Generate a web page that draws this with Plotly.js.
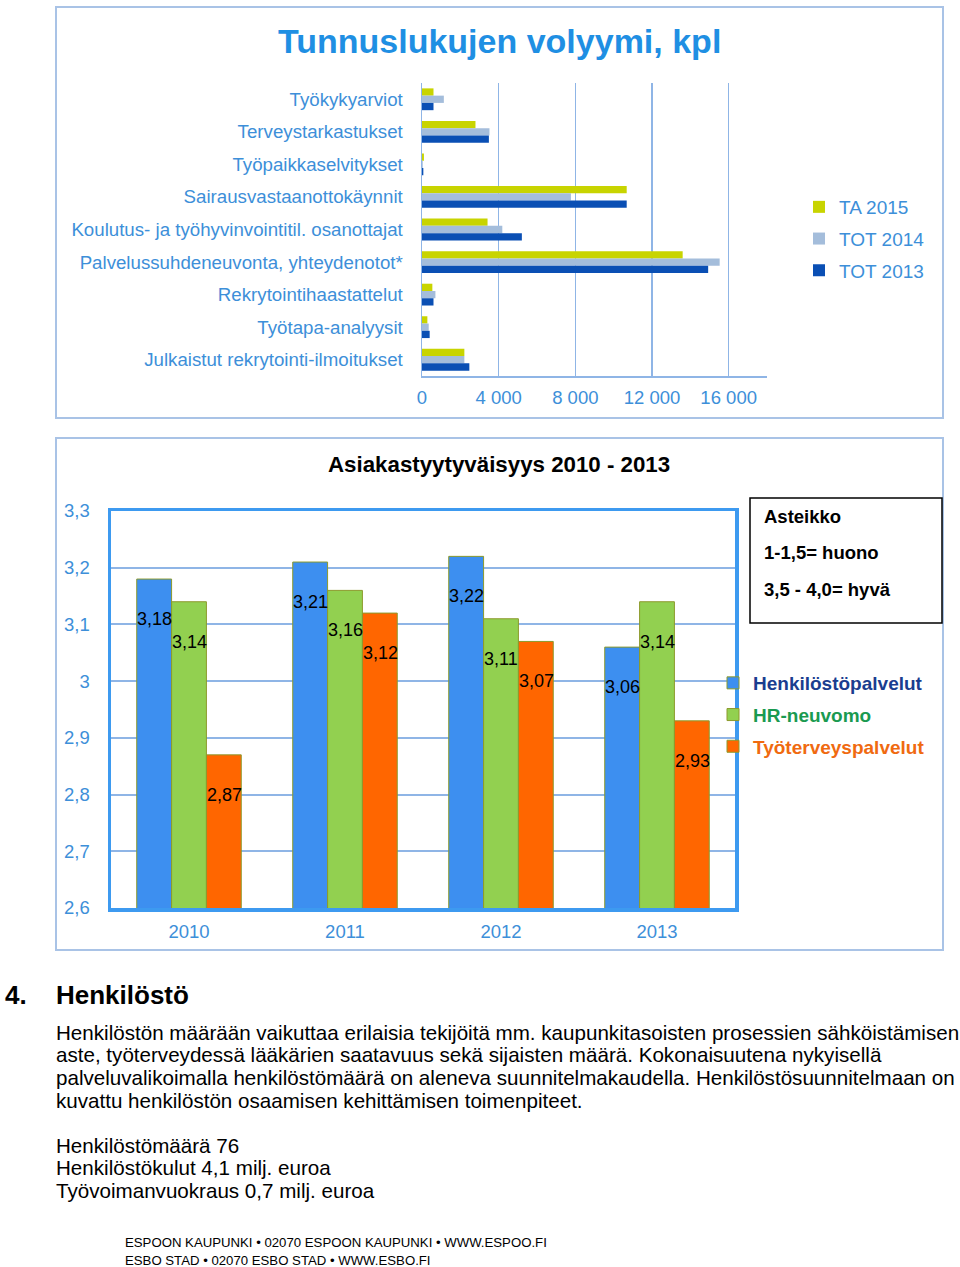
<!DOCTYPE html>
<html>
<head>
<meta charset="utf-8">
<script src="https://cdn.plot.ly/plotly-3.0.1.min.js"></script>
<style>
html,body{margin:0;padding:0;background:#fff;}
#chart{width:960px;height:1267px;}
</style>
</head>
<body>
<div id="chart"></div>
<script>
// ---------- DATA ----------
const volCategories = [
  "Työkykyarviot",
  "Terveystarkastukset",
  "Työpaikkaselvitykset",
  "Sairausvastaanottokäynnit",
  "Koulutus- ja työhyvinvointitil. osanottajat",
  "Palvelussuhdeneuvonta, yhteydenotot*",
  "Rekrytointihaastattelut",
  "Työtapa-analyysit",
  "Julkaistut rekrytointi-ilmoitukset"
];
const volSeriesNames = ["TA 2015", "TOT 2014", "TOT 2013"];
const ta2015  = [600, 2790, 100, 10680, 3420, 13600, 540, 280, 2210];
const tot2014 = [1140, 3520, 40, 7770, 4190, 15530, 700, 350, 2210];
const tot2013 = [600, 3490, 70, 10680, 5210, 14930, 600, 400, 2470];
const volTicks = [0, 4000, 8000, 12000, 16000];

const satYears = ["2010", "2011", "2012", "2013"];
const satSeriesNames = ["Henkilöstöpalvelut", "HR-neuvomo", "Työterveyspalvelut"];
const henkilostopalvelut = [3.18, 3.21, 3.22, 3.06];
const hrNeuvomo = [3.14, 3.16, 3.11, 3.14];
const tyoterveyspalvelut = [2.87, 3.12, 3.07, 2.93];

const titleTop = "Tunnuslukujen volyymi, kpl";
const titleBottom = "Asiakastyytyväisyys 2010 - 2013";
const scaleLines = ["Asteikko", "1-1,5= huono", "3,5 - 4,0= hyvä"];
const sectionNumber = "4.";
const sectionTitle = "Henkilöstö";
const paragraphLines = [
  "Henkilöstön määrään vaikuttaa erilaisia tekijöitä mm. kaupunkitasoisten prosessien sähköistämisen",
  "aste, työterveydessä lääkärien saatavuus sekä sijaisten määrä. Kokonaisuutena nykyisellä",
  "palveluvalikoimalla henkilöstömäärä on aleneva suunnitelmakaudella. Henkilöstösuunnitelmaan on",
  "kuvattu henkilöstön osaamisen kehittämisen toimenpiteet."
];
const factLines = [
  "Henkilöstömäärä 76",
  "Henkilöstökulut 4,1 milj. euroa",
  "Työvoimanvuokraus 0,7 milj. euroa"
];
const footerLines = [
  "ESPOON KAUPUNKI • 02070 ESPOON KAUPUNKI • WWW.ESPOO.FI",
  "ESBO STAD • 02070 ESBO STAD • WWW.ESBO.FI"
];

// ---------- STYLE ----------
const W = 960, H = 1267;
const px = x => x / W;
const py = y => 1 - y / H;
const FONT = "Liberation Sans, Arial, Helvetica, sans-serif";
const lightBlue = "#3d8fd9";
const gridBlue = "#8fb5e6";
const volColors = ["#c8d400", "#a4bddb", "#0a4fb4"];
const satColors = ["#3d8ff0", "#92d050", "#ff6600"];
const satTextColors = ["#1a3d8f", "#1a9a50", "#f06a10"];

// ---------- TRACES ----------
const volData = [ta2015, tot2014, tot2013];
const traces = [];
volData.forEach((vals, i) => {
  traces.push({
    type: "bar", orientation: "h",
    x: vals, y: volCategories, name: volSeriesNames[i],
    xaxis: "x", yaxis: "y",
    marker: {color: volColors[i]},
    legend: "legend", legendgroup: "v" + i,
    hoverinfo: "x+y"
  });
});
const satData = [henkilostopalvelut, hrNeuvomo, tyoterveyspalvelut];
satData.forEach((vals, i) => {
  traces.push({
    type: "bar",
    x: satYears, y: vals,
    name: "<b><span style='color:" + satTextColors[i] + "'>" + satSeriesNames[i] + "</span></b>",
    xaxis: "x2", yaxis: "y2",
    marker: {color: satColors[i], line: {color: "#8c9a2c", width: 1}},
    legend: "legend2", legendgroup: "s" + i,
    hoverinfo: "y"
  });
});

// ---------- ANNOTATIONS ----------
const annotations = [];
annotations.push({
  xref: "paper", yref: "paper", x: px(499), y: py(41),
  text: "<b>" + titleTop + "</b>", showarrow: false,
  font: {family: FONT, size: 34, color: "#1f8fe3"}, xanchor: "center", yanchor: "middle"
});
annotations.push({
  xref: "paper", yref: "paper", x: px(499), y: py(465),
  text: "<b>" + titleBottom + "</b>", showarrow: false,
  font: {family: FONT, size: 22.3, color: "#000"}, xanchor: "center", yanchor: "middle"
});
// data labels for satisfaction bars (x given as category index)
const satShift = [-35, 0, 35];
satData.forEach((vals, i) => {
  vals.forEach((v, j) => {
    annotations.push({
      xref: "x2", yref: "y2", x: j, y: v,
      xshift: satShift[i], yshift: -40,
      text: v.toFixed(2).replace(".", ","), showarrow: false,
      font: {family: FONT, size: 18, color: "#000"},
      xanchor: "center", yanchor: "middle"
    });
  });
});
// scale box text
scaleLines.forEach((t, i) => {
  annotations.push({
    xref: "paper", yref: "paper", x: px(762), y: py(516 + i * 36.5),
    text: "<b>" + t + "</b>", showarrow: false,
    font: {family: FONT, size: 18.5, color: "#000"}, xanchor: "left", yanchor: "middle"
  });
});
// section heading
annotations.push({
  xref: "paper", yref: "paper", x: px(3), y: py(995),
  text: "<b>" + sectionNumber + "</b>", showarrow: false,
  font: {family: FONT, size: 26, color: "#000"}, xanchor: "left", yanchor: "middle"
});
annotations.push({
  xref: "paper", yref: "paper", x: px(54), y: py(995),
  text: "<b>" + sectionTitle + "</b>", showarrow: false,
  font: {family: FONT, size: 26, color: "#000"}, xanchor: "left", yanchor: "middle"
});
paragraphLines.forEach((t, i) => {
  annotations.push({
    xref: "paper", yref: "paper", x: px(54), y: py(1032 + i * 22.7),
    text: t, showarrow: false,
    font: {family: FONT, size: 20.6, color: "#000"}, xanchor: "left", yanchor: "middle"
  });
});
factLines.forEach((t, i) => {
  annotations.push({
    xref: "paper", yref: "paper", x: px(54), y: py(1145 + i * 22.7),
    text: t, showarrow: false,
    font: {family: FONT, size: 20.6, color: "#000"}, xanchor: "left", yanchor: "middle"
  });
});
footerLines.forEach((t, i) => {
  annotations.push({
    xref: "paper", yref: "paper", x: px(124), y: py(1242 + i * 18),
    text: t, showarrow: false, borderpad: 0,
    font: {family: FONT, size: 13.2, color: "#000"}, xanchor: "left", yanchor: "middle"
  });
});

// ---------- SHAPES ----------
const shapes = [
  {type: "rect", xref: "paper", yref: "paper", x0: px(56), x1: px(943), y0: py(7), y1: py(418),
   line: {color: "#a9c3e6", width: 2}},
  {type: "rect", xref: "paper", yref: "paper", x0: px(56), x1: px(943), y0: py(438), y1: py(950),
   line: {color: "#a9c3e6", width: 2}},
  {type: "rect", xref: "paper", yref: "paper", x0: px(750), x1: px(942), y0: py(498), y1: py(623),
   line: {color: "#000", width: 1.5}}
];

// ---------- LAYOUT ----------
const layout = {
  width: W, height: H,
  margin: {l: 0, r: 0, t: 0, b: 0},
  paper_bgcolor: "#fff", plot_bgcolor: "rgba(0,0,0,0)",
  font: {family: FONT},
  separators: ", ",
  barmode: "group", bargap: 0.33, bargroupgap: 0,
  showlegend: true,
  xaxis: {
    domain: [px(422), px(767)], anchor: "y",
    range: [0, 18000], tickvals: volTicks, tickformat: ",.0f",
    showgrid: true, gridcolor: gridBlue, gridwidth: 1.5,
    showline: true, linecolor: gridBlue, linewidth: 1.5,
    zeroline: false, ticks: "", ticklabelstandoff: 4,
    tickfont: {family: FONT, size: 18.5, color: lightBlue}
  },
  yaxis: {
    domain: [py(376), py(83)], anchor: "x",
    autorange: "reversed", type: "category",
    showgrid: false, showline: true, linecolor: gridBlue, linewidth: 1.5,
    ticks: "", ticklabelstandoff: 14,
    tickfont: {family: FONT, size: 18.7, color: lightBlue}
  },
  xaxis2: {
    domain: [px(111), px(735)], anchor: "y2",
    type: "category", range: [-0.5, 3.5],
    showgrid: false, showline: true, mirror: true, linecolor: "#3d9af0", linewidth: 3.5,
    ticks: "", ticklabelstandoff: 4,
    tickfont: {family: FONT, size: 18.5, color: lightBlue}
  },
  yaxis2: {
    domain: [py(908), py(511)], anchor: "x2",
    range: [2.6, 3.3], dtick: 0.1, tick0: 2.6,
    showgrid: true, gridcolor: gridBlue, gridwidth: 2,
    showline: true, mirror: true, linecolor: "#3d9af0", linewidth: 3.5,
    zeroline: false, ticks: "", ticklabelstandoff: 14,
    tickfont: {family: FONT, size: 18.5, color: lightBlue}
  },
  legend: {
    x: px(799), y: py(188), xanchor: "left", yanchor: "top",
    bgcolor: "rgba(0,0,0,0)", traceorder: "grouped", tracegroupgap: 4,
    font: {family: FONT, size: 19, color: lightBlue}, itemwidth: 30
  },
  legend2: {
    x: px(713), y: py(664), xanchor: "left", yanchor: "top",
    bgcolor: "rgba(0,0,0,0)", traceorder: "grouped", tracegroupgap: 4,
    font: {family: FONT, size: 19, color: "#000"}, itemwidth: 30
  },
  annotations: annotations,
  shapes: shapes
};

Plotly.newPlot("chart", traces, layout, {displayModeBar: false, staticPlot: true});
</script>
</body>
</html>
